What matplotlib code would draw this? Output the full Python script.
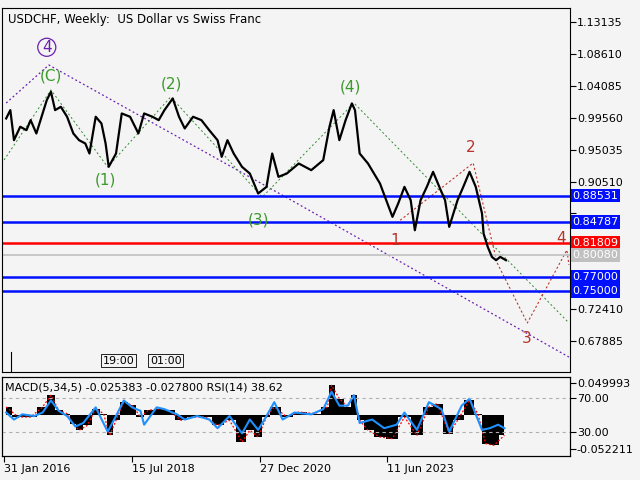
import matplotlib.pyplot as plt

# price path (decimal year, close)
years = [2016.12, 2016.20, 2016.27, 2016.39, 2016.51, 2016.59, 2016.70, 2016.82, 2016.90, 2016.98,
         2017.06, 2017.17, 2017.29, 2017.41, 2017.52, 2017.64, 2017.72, 2017.84, 2017.95, 2018.03,
         2018.09, 2018.23, 2018.34, 2018.50, 2018.66, 2018.77, 2018.93, 2019.05, 2019.16, 2019.32,
         2019.44, 2019.55, 2019.71, 2019.87, 2020.02, 2020.18, 2020.26, 2020.37, 2020.49, 2020.65,
         2020.80, 2020.96, 2021.12, 2021.23, 2021.35, 2021.51, 2021.74, 2021.98, 2022.21, 2022.33,
         2022.41, 2022.52, 2022.64, 2022.76, 2022.82, 2022.91, 2023.07, 2023.30, 2023.42, 2023.54,
         2023.65, 2023.77, 2023.89, 2023.97, 2024.08, 2024.20, 2024.32, 2024.44, 2024.55, 2024.63,
         2024.79, 2024.90, 2025.02, 2025.14, 2025.26, 2025.29, 2025.37, 2025.45, 2025.53, 2025.61, 2025.72]
closes = [0.9946, 1.0064, 0.9638, 0.9828, 0.9780, 0.9922, 0.9733, 1.0017, 1.0206, 1.0324,
          1.0064, 1.0111, 0.9970, 0.9733, 0.9638, 0.9591, 0.9449, 0.9970, 0.9875, 0.9591,
          0.9260, 0.9449, 1.0017, 0.9970, 0.9733, 1.0017, 0.9970, 0.9922, 1.0064, 1.0230,
          0.9970, 0.9804, 0.9970, 0.9922, 0.9780, 0.9638, 0.9402, 0.9638, 0.9449, 0.9260,
          0.9165, 0.8882, 0.8976, 0.9449, 0.9118, 0.9165, 0.9307, 0.9213, 0.9355, 0.9828,
          1.0064, 0.9638, 0.9922, 1.0159, 1.0064, 0.9449, 0.9307, 0.9024, 0.8787, 0.8551,
          0.8740, 0.8976, 0.8787, 0.8361, 0.8787, 0.8976, 0.9189, 0.8976, 0.8787, 0.8409,
          0.8787, 0.8976, 0.9189, 0.8976, 0.8598, 0.8314, 0.8125, 0.7983, 0.7936, 0.7983, 0.7936]

# wave paths
purple_x = [2016.12, 2016.94, 2021.59, 2026.93]
purple_y = [1.0165, 1.0704, 0.8790, 0.6563]
green_x = [2016.08, 2016.98, 2018.07, 2019.28, 2021.04, 2022.80, 2026.93]
green_y = [0.9357, 1.0350, 0.9258, 1.0251, 0.8832, 1.0165, 0.7046]
red_x = [2023.62, 2025.09, 2025.55, 2026.13, 2026.89, 2026.93]
red_y = [0.8463, 0.9314, 0.7900, 0.7046, 0.8080, 0.7868]

# horizontal levels
blue_levels = [0.88531, 0.84787, 0.77000, 0.75000]
red_level = 0.81809
grey_level = 0.80080
price_ticks = [1.13135, 1.08610, 1.04085, 0.99560, 0.95035, 0.90510, 0.85985, 0.72410, 0.67885]

# indicator
ind_years = [2016.12, 2016.35, 2016.59, 2016.82, 2016.98, 2017.13, 2017.29, 2017.41, 2017.52, 2017.68,
             2017.84, 2017.99, 2018.11, 2018.23, 2018.38, 2018.54, 2018.70, 2018.85, 2019.09, 2019.24,
             2019.48, 2019.71, 2019.95, 2020.18, 2020.41, 2020.65, 2020.80, 2020.96, 2021.12, 2021.27,
             2021.51, 2021.74, 2022.05, 2022.29, 2022.37, 2022.52, 2022.68, 2022.80, 2022.91, 2023.07,
             2023.30, 2023.54, 2023.77, 2024.01, 2024.24, 2024.40, 2024.63, 2024.79, 2025.02, 2025.18,
             2025.33, 2025.49, 2025.69]
macd = [0.0129, -0.0026, -0.0026, 0.0129, 0.0310, 0.0077, 0.0026, -0.0129, -0.0232, -0.0155,
        0.0103, 0.0026, -0.0310, -0.0077, 0.0206, 0.0155, -0.0026, 0.0077, 0.0103, 0.0077,
        -0.0077, -0.0026, -0.0026, -0.0155, -0.0077, -0.0413, -0.0232, -0.0335, -0.0026, 0.0129,
        -0.0026, 0.0051, 0.0026, 0.0129, 0.0464, 0.0258, 0.0129, 0.0310, -0.0077, -0.0232,
        -0.0335, -0.0361, -0.0026, -0.0310, 0.0129, 0.0181, -0.0284, -0.0077, 0.0232, 0.0026,
        -0.0439, -0.0464, -0.0310]
rsi_years = [2016.12, 2016.27, 2016.43, 2016.66, 2016.82, 2016.98, 2017.13, 2017.29, 2017.45, 2017.60,
             2017.84, 2018.07, 2018.23, 2018.38, 2018.54, 2018.70, 2018.77, 2019.01, 2019.16, 2019.40,
             2019.55, 2019.79, 2020.02, 2020.18, 2020.41, 2020.65, 2020.80, 2020.96, 2021.12, 2021.27,
             2021.43, 2021.66, 2021.98, 2022.21, 2022.37, 2022.52, 2022.68, 2022.80, 2022.91, 2023.15,
             2023.38, 2023.62, 2023.77, 2024.01, 2024.24, 2024.48, 2024.63, 2024.87, 2025.02, 2025.18,
             2025.26, 2025.41, 2025.57, 2025.69]
rsi = [52.9, 44.7, 50.8, 48.8, 52.9, 67.1, 54.9, 48.8, 36.5, 40.6,
       59.0, 30.4, 48.8, 67.1, 59.0, 54.9, 38.6, 59.0, 56.9, 50.8,
       44.7, 48.8, 44.7, 34.5, 48.8, 28.4, 44.7, 32.5, 48.8, 65.1,
       44.7, 52.9, 50.8, 56.9, 77.3, 61.0, 61.0, 73.3, 40.6, 44.7,
       34.5, 38.6, 52.9, 32.5, 65.1, 56.9, 30.4, 61.0, 69.2, 44.7,
       32.5, 34.5, 38.6, 34.5]

bg = '#f4f4f4'
fig = plt.figure(figsize=(6.4, 4.8), dpi=100, facecolor=bg)
X0, X1 = 2016.04, 2026.95

ax = fig.add_axes([2/640, 1 - 372/480, 568/640, 364/480], facecolor=bg)
ax.set_xlim(X0, X1)
ax.set_ylim(0.6351, 1.1512)
ax.plot(years, closes, color='black', lw=1.6, zorder=5)
ax.plot(purple_x, purple_y, color='#6a1fb0', ls=(0, (1.5, 2)), lw=0.9)
ax.plot(green_x, green_y, color='#2e8b2e', ls=(0, (2, 2.5)), lw=0.7)
ax.plot(red_x, red_y, color='#c0392b', ls=(0, (2, 2)), lw=0.8)
for lv in blue_levels:
    ax.axhline(lv, color='#0010ff', lw=1.8)
ax.axhline(red_level, color='#ff0000', lw=1.8)
ax.axhline(grey_level, color='#c0c0c0', lw=1.2)

ax.yaxis.tick_right()
ax.set_yticks(price_ticks)
ax.set_yticklabels([f'{v:.5f}' if v != 0.85985 else '' for v in price_ticks], fontsize=8)
ax.tick_params(axis='y', length=4, pad=1)
ax.set_xticks([])

def box(val, fc, tc='white'):
    ax.text(1.004, val, f'{val:.5f}', transform=ax.get_yaxis_transform(), fontsize=8,
            color=tc, va='center', ha='left',
            bbox=dict(boxstyle='square,pad=0.15', fc=fc, ec='none'), zorder=10)

for lv in blue_levels:
    box(lv, '#0010ff')
box(red_level, '#ff0000')
box(grey_level, '#c0c0c0')

ax.text(0.01, 0.985, 'USDCHF, Weekly:  US Dollar vs Swiss Franc', transform=ax.transAxes,
        fontsize=8.5, va='top')

g = '#3c9a2c'
for t, x, y in [('(C)', 2016.98, 1.0550), ('(1)', 2018.03, 0.9080), ('(2)', 2019.30, 1.0440),
                ('(3)', 2020.97, 0.8510), ('(4)', 2022.73, 1.0390)]:
    ax.text(x, y, t, color=g, fontsize=11, ha='center', va='center')
r = '#b5332b'
for t, x, y in [('1', 2023.60, 0.8220), ('2', 2025.05, 0.9540), ('3', 2026.11, 0.6830), ('4', 2026.78, 0.8240)]:
    ax.text(x, y, t, color=r, fontsize=11, ha='center', va='center')
ax.text(2016.90, 1.0955, '4', color='#6a1fb0', fontsize=11, ha='center', va='center',
        bbox=dict(boxstyle='circle,pad=0.1', fc='none', ec='#6a1fb0', lw=0.9))

# time boxes
for t, x in [('19:00', 2017.98), ('01:00', 2018.88)]:
    ax.text(x, 0.6510, t, fontsize=8, ha='left', va='center',
            bbox=dict(boxstyle='square,pad=0.15', fc=bg, ec='black', lw=0.6))
ax.plot([2016.21, 2016.21], [0.6351, 0.6640], color='black', lw=0.8)

# indicator panel
ax2 = fig.add_axes([2/640, 1 - 456/480, 568/640, 79/480], facecolor=bg)
ax3 = ax2.twinx()
ax2.set_xlim(X0, X1)
ax2.set_ylim(-0.063, 0.0593)
ax2.fill_between(ind_years, 0, macd, step='mid', color='black', lw=0)
ax2.plot(ind_years, macd, color='red', ls=(0, (1.5, 1.5)), lw=0.9)
ax2.yaxis.tick_right()
ax2.set_yticks([0.049993, -0.052211])
ax2.set_yticklabels(['0.049993', '-0.052211'], fontsize=8)
ax2.tick_params(axis='y', length=4, pad=1)
ax2.set_xticks([2016.08, 2018.53, 2020.99, 2023.44])
ax2.set_xticklabels(['31 Jan 2016', '15 Jul 2018', '27 Dec 2020', '11 Jun 2023'], fontsize=8)
for lab in ax2.get_xticklabels():
    lab.set_horizontalalignment('left')
ax2.tick_params(axis='x', length=4, pad=2)

ax3.set_ylim(1.8, 94.7)
ax3.set_xlim(X0, X1)
ax3.plot(rsi_years, rsi, color='#1e90ff', lw=1.5)
for lv in (70, 30):
    ax3.axhline(lv, color='#b0b0b0', ls=(0, (3, 3)), lw=0.8)
ax3.set_yticks([70, 30])
ax3.set_yticklabels(['70.00', '30.00'], fontsize=8)
ax3.tick_params(axis='y', length=4, pad=1)
ax2.text(0.005, 0.93, 'MACD(5,34,5) -0.025383 -0.027800 RSI(14) 38.62', transform=ax2.transAxes,
         fontsize=8, va='top')

fig.savefig('out.png', dpi=100, facecolor=bg)
